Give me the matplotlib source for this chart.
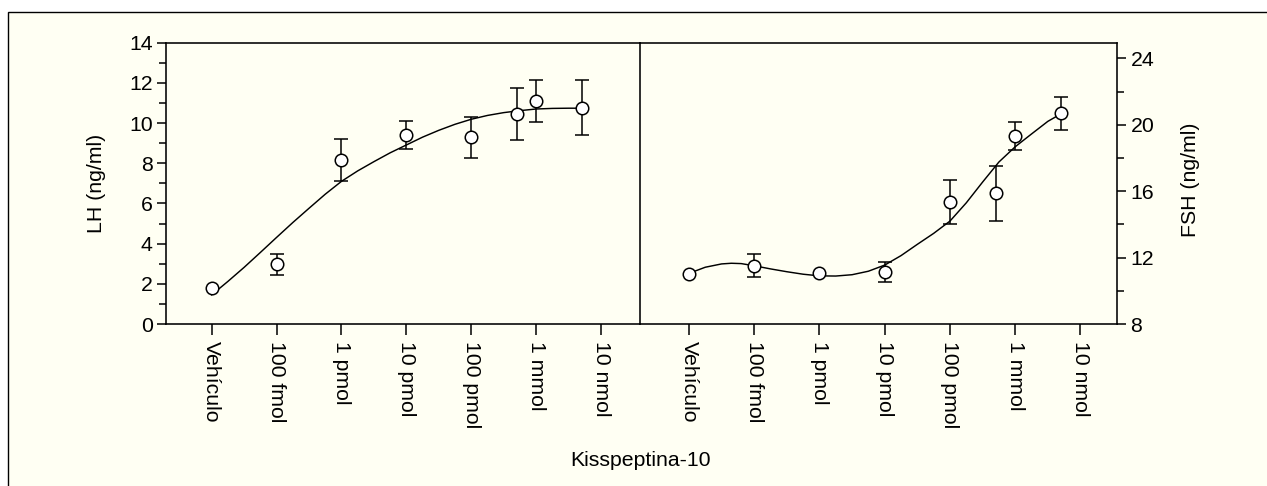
import matplotlib
matplotlib.use("Agg")
import matplotlib.pyplot as plt
from matplotlib.patches import Rectangle
from matplotlib.ticker import MultipleLocator

plt.rcParams['font.family'] = ['Liberation Sans', 'DejaVu Sans']

# ---- data ----
categories = ["Vehículo", "100 fmol", "1 pmol", "10 pmol", "100 pmol", "1 mmol", "10 nmol"]

lh_x = [0, 1, 2, 3, 4, 4.7, 5, 5.7]
lh_y = [1.81, 2.97, 8.16, 9.41, 9.29, 10.44, 11.10, 10.77]
lh_err = [0, 0.52, 1.04, 0.70, 1.02, 1.30, 1.04, 1.37]

fsh_x = [0, 1, 2, 3, 4, 4.7, 5, 5.7]
fsh_y = [11.03, 11.51, 11.05, 11.11, 15.37, 15.87, 19.33, 20.69]
fsh_err = [0, 0.70, 0, 0.60, 1.33, 1.65, 0.86, 1.01]

lh_fit_x = [0, 0.25, 0.5, 0.75, 1, 1.25, 1.5, 1.75, 2, 2.25, 2.5, 2.75, 3,
            3.25, 3.5, 3.75, 4, 4.25, 4.5, 4.75, 5, 5.25, 5.5, 5.7]
lh_fit_y = [1.45, 2.12, 2.82, 3.56, 4.31, 5.05, 5.76, 6.46, 7.10, 7.62, 8.08,
            8.52, 8.91, 9.30, 9.64, 9.94, 10.19, 10.38, 10.52, 10.62, 10.70,
            10.73, 10.74, 10.74]

fsh_fit_x = [0, 0.25, 0.5, 0.65, 0.8, 1, 1.25, 1.5, 1.75, 2, 2.25, 2.5, 2.75,
             3, 3.25, 3.5, 3.75, 4, 4.25, 4.5, 4.75, 5, 5.25, 5.5, 5.7]
fsh_fit_y = [11.05, 11.42, 11.62, 11.66, 11.64, 11.51, 11.32, 11.15, 11.00,
             10.90, 10.89, 10.97, 11.18, 11.55, 12.12, 12.80, 13.46, 14.20,
             15.30, 16.55, 17.76, 18.68, 19.45, 20.21, 20.66]

# ---- figure ----
W, H = 1267, 486
fig = plt.figure(figsize=(W / 100, H / 100), dpi=100, facecolor='white')

cream = '#FFFFF3'
frame = Rectangle((8 / W, -0.1), 1.2, 1.1 - 11.7 / H, transform=fig.transFigure,
                  facecolor=cream, edgecolor='black', linewidth=1.0, zorder=-10)
fig.patches.append(frame)

bottom = 1 - 324 / H
top = 1 - 42.7 / H
axL = fig.add_axes([166 / W, bottom, (640 - 166) / W, top - bottom])
axR = fig.add_axes([640 / W, bottom, (1117 - 640) / W, top - bottom])
axL.set_zorder(1)
axR.set_zorder(1)

FS = 15.3
lw_sp = 1.15

def style(ax):
    ax.set_facecolor('none')
    for s in ax.spines.values():
        s.set_linewidth(lw_sp)
    ax.set_xticks(range(len(categories)))
    ax.set_xticklabels(categories, rotation=-90, fontsize=FS, va='top', ha='center')
    ax.tick_params(axis='x', length=8, width=1.1, pad=4.5, direction='out')
    ax.tick_params(axis='y', which='major', length=6.7, width=1.1, labelsize=FS, pad=3)
    ax.tick_params(axis='y', which='minor', length=4.8, width=1.1)

def draw(ax, x, y, err, fx, fy):
    ax.plot(fx, fy, color='black', lw=1.05, zorder=2)
    ex = [a for a, e in zip(x, err) if e > 0]
    ey = [b for b, e in zip(y, err) if e > 0]
    ee = [e for e in err if e > 0]
    ax.errorbar(ex, ey, yerr=ee, fmt='none', ecolor='black', elinewidth=1.1,
                capsize=4.8, capthick=1.1, zorder=3)
    ax.plot(x, y, 'o', ms=9, mfc='white', mec='black', mew=1.1, zorder=4)

style(axL)
style(axR)

draw(axL, lh_x, lh_y, lh_err, lh_fit_x, lh_fit_y)
axL.set_xlim(-0.704, 6.60)
axL.set_ylim(0, 14)
axL.yaxis.set_major_locator(MultipleLocator(2))
axL.yaxis.set_minor_locator(MultipleLocator(1))

draw(axR, fsh_x, fsh_y, fsh_err, fsh_fit_x, fsh_fit_y)
axR.set_xlim(-0.75, 6.56)
axR.set_ylim(8, 24.95)
axR.yaxis.tick_right()
axR.yaxis.set_major_locator(MultipleLocator(4))
axR.yaxis.set_minor_locator(MultipleLocator(2))
axR.spines['left'].set_visible(False)

fig.text(97 / W, 1 - 183 / H, "LH (ng/ml)", rotation=90, fontsize=FS,
         ha='center', va='center')
fig.text(1191 / W, 1 - 180 / H, "FSH (ng/ml)", rotation=90, fontsize=FS,
         ha='center', va='center')
fig.text(641 / W, 1 - 460 / H, "Kisspeptina-10", fontsize=FS,
         ha='center', va='center')

fig.savefig("out.png", dpi=100, facecolor='white')
